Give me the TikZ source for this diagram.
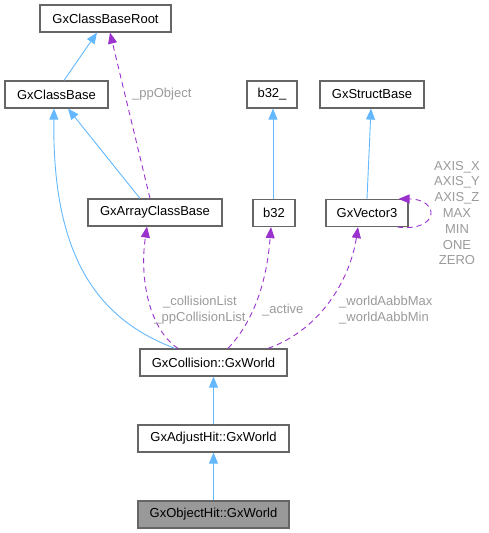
\documentclass[tikz,border=0pt]{standalone}
\usepackage{fontspec}
\setmainfont{Liberation Sans}
\usetikzlibrary{arrows.meta}
\definecolor{edgeblue}{HTML}{63B8FF}
\definecolor{edgepurple}{HTML}{9A32CD}
\definecolor{labelgray}{HTML}{9A9A9A}
\definecolor{boxborder}{HTML}{666666}
\definecolor{boxfill}{HTML}{999999}
\begin{document}
\begin{tikzpicture}[x=1pt,y=-1pt,
  cls/.style={draw=boxborder, line width=1.2pt, fill=white, minimum height=27pt, inner sep=0pt,
    font=\fontsize{13}{15.8}\selectfont, text=black},
  cur/.style={cls, fill=boxfill},
  inh/.style={draw=edgeblue, line width=0.9pt, -{Triangle[length=11pt,width=9pt]}},
  use/.style={draw=edgepurple, line width=0.9pt, dash pattern=on 5.5pt off 4pt, -{Triangle[length=11pt,width=9pt]}},
  lbl/.style={text=labelgray, font=\fontsize{13}{15.8}\selectfont, inner sep=0pt, align=center}
]
\useasboundingbox (0,0) rectangle (488,533);
% nodes
\node[cls, minimum width=131pt] (root) at (105.5,18.5) {GxClassBaseRoot};
\node[cls, minimum width=103pt] (cb) at (56.5,94.5) {GxClassBase};
\node[cls, minimum width=50pt] (bu) at (272,94.5) {b32\_};
\node[cls, minimum width=104pt] (gs) at (372,94.5) {GxStructBase};
\node[cls, minimum width=134pt] (arr) at (155,212.5) {GxArrayClassBase};
\node[cls, minimum width=42pt] (b) at (274,213) {b32};
\node[cls, minimum width=82pt] (vec) at (367,213) {GxVector3};
\node[cls, minimum width=147pt] (coll) at (213.5,362.5) {GxCollision::GxWorld};
\node[cls, minimum width=151pt] (adj) at (213.5,438.5) {GxAdjustHit::GxWorld};
\node[cur, minimum width=151pt] (obj) at (213.5,514.5) {GxObjectHit::GxWorld};
% edges
\draw[inh] ([xshift=7.5pt]cb.north) -- ([xshift=-8.5pt]root.south);
\draw[use] ([xshift=-5pt]arr.north) -- ([xshift=4.5pt]root.south);
\draw[inh] ([xshift=-15pt]arr.north) -- ([xshift=11.5pt]cb.south);
\draw[inh] ([xshift=-38.5pt]coll.north) .. controls (100,320) and (52,260) .. ([xshift=-2.5pt]cb.south);
\draw[use] ([xshift=-35.5pt]coll.north) .. controls (150,330) and (139,280) .. ([xshift=-8pt]arr.south);
\draw[use] ([xshift=14.5pt]coll.north) .. controls (250,325) and (266,290) .. ([xshift=-3pt]b.south);
\draw[use] ([xshift=54.5pt]coll.north) .. controls (320,330) and (350,280) .. ([xshift=-9pt]vec.south);
\draw[use] ([xshift=-11pt]vec.south east) .. controls (440,232) and (440,199) .. ([xshift=-10pt]vec.north east);
\draw[inh] ([xshift=-1pt]b.north) -- ([xshift=1pt]bu.south);
\draw[inh] (vec.north) -- ([xshift=-1pt]gs.south);
\draw[inh] (adj.north) -- (coll.south);
\draw[inh] (obj.north) -- (adj.south);
% labels
\node[lbl, anchor=west] (lpp) at (132,94) {\_ppObject};
\node[lbl] (lcol) at (200,310) {\_collisionList\\\_ppCollisionList};
\node[lbl, anchor=west] (lact) at (262,310) {\_active};
\node[lbl, align=left, anchor=west] (lworld) at (339,310) {\_worldAabbMax\\\_worldAabbMin};
\node[lbl] (laxis) at (457,213) {AXIS\_X\\AXIS\_Y\\AXIS\_Z\\MAX\\MIN\\ONE\\ZERO};
\end{tikzpicture}
\end{document}
